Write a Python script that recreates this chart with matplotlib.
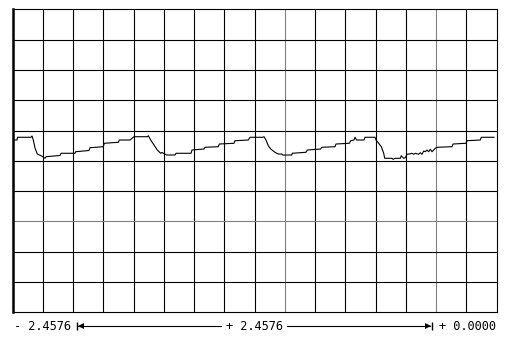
import matplotlib
matplotlib.use("Agg")
import matplotlib.pyplot as plt
from matplotlib.lines import Line2D

# sweep window (s) and screen layout in divisions
t_start = -2.4576
t_span = 2.4576
t_end = 0.0
n_xdiv = 16
n_ydiv = 10
gray_xdiv = [9, 14]
gray_ydiv = [-2]

# trace: time (s), level (div)
trace_t = [-2.4551, -2.4348, -2.4322, -2.3637, -2.3586, -2.3520, -2.3434, -2.3317,
           -2.3093, -2.2926, -2.2875, -2.2164, -2.2113, -2.1402, -2.1367, -2.0692,
           -2.0641, -1.9965, -1.9915, -1.9204, -1.9153, -1.8610, -1.8407, -1.7731,
           -1.7680, -1.7559, -1.7391, -1.7223, -1.7051, -1.6985, -1.6919, -1.6746,
           -1.6325, -1.6274, -1.5512, -1.5462, -1.4852, -1.4801, -1.4126, -1.4075,
           -1.3329, -1.3278, -1.2603, -1.2516, -1.1872, -1.1806, -1.1704, -1.1587,
           -1.1465, -1.1247, -1.1079, -1.0907, -1.0856, -1.0399, -1.0369, -0.9673,
           -0.9607, -0.8927, -0.8876, -0.8200, -0.8150, -0.7474, -0.7403, -0.7236,
           -0.7185, -0.7099, -0.6728, -0.6677, -0.6169, -0.6119, -0.5981, -0.5849,
           -0.5728, -0.5677, -0.5306, -0.5255, -0.5138, -0.4885, -0.4834, -0.4712,
           -0.4631, -0.4544, -0.4428, -0.4291, -0.4204, -0.4123, -0.3950, -0.3869,
           -0.3783, -0.3696, -0.3615, -0.3529, -0.3443, -0.3361, -0.3275, -0.3188,
           -0.3107, -0.3021, -0.2260, -0.2209, -0.1549, -0.1498, -0.0823, -0.0772,
           -0.0127]
trace_v = [0.686, 0.686, 0.776, 0.776, 0.818, 0.686, 0.422, 0.224,
           0.158, 0.083, 0.135, 0.175, 0.248, 0.248, 0.300, 0.340,
           0.432, 0.465, 0.578, 0.611, 0.686, 0.686, 0.795, 0.795,
           0.828, 0.686, 0.521, 0.356, 0.248, 0.274, 0.248, 0.191,
           0.191, 0.248, 0.248, 0.356, 0.389, 0.446, 0.465, 0.554,
           0.578, 0.663, 0.686, 0.776, 0.776, 0.795, 0.686, 0.498,
           0.389, 0.281, 0.224, 0.224, 0.191, 0.191, 0.248, 0.281,
           0.356, 0.389, 0.446, 0.465, 0.554, 0.578, 0.663, 0.686,
           0.776, 0.686, 0.686, 0.776, 0.776, 0.686, 0.578, 0.465,
           0.248, 0.083, 0.083, 0.050, 0.083, 0.083, 0.168, 0.083,
           0.102, 0.215, 0.224, 0.248, 0.215, 0.248, 0.215, 0.267,
           0.215, 0.323, 0.300, 0.356, 0.300, 0.380, 0.300, 0.356,
           0.413, 0.446, 0.465, 0.554, 0.578, 0.663, 0.686, 0.776,
           0.776]

W, H = 509, 349
fig = plt.figure(figsize=(W / 100, H / 100), dpi=100)
ax = fig.add_axes([12.5 / W, (H - 312.3) / H, 484 / W, 303 / H])

div_t = t_span / n_xdiv
for i in range(1, n_xdiv):
    c = '#808080' if i in gray_xdiv else 'black'
    ax.axvline(t_start + i * div_t, color=c, lw=0.8, zorder=1)
for j in range(-n_ydiv // 2 + 1, n_ydiv // 2):
    c = '#808080' if j in gray_ydiv else 'black'
    ax.axhline(j, color=c, lw=0.8, zorder=1)

ax.plot(trace_t, trace_v, color='black', lw=0.8, zorder=3)

ax.set_xlim(t_start, t_end)
ax.set_ylim(-n_ydiv / 2, n_ydiv / 2)
ax.set_xticks([])
ax.set_yticks([])
for s in ax.spines.values():
    s.set_color('black')
    s.set_linewidth(0.8)
ax.spines['left'].set_linewidth(1.8)

# sweep readout under the screen
ty = (H - 326) / H
font = dict(family='DejaVu Sans Mono', fontsize=8.6, va='center', color='black')
fig.text(13.5 / W, ty, '- %.4f' % abs(t_start), ha='left', **font)
fig.text(254.5 / W, ty, '+ %.4f' % t_span, ha='center', **font)
fig.text(496 / W, ty, '+ %.4f' % t_end, ha='right', **font)

fig.add_artist(Line2D([78 / W, 221 / W], [ty, ty], color='black', lw=0.8))
fig.add_artist(Line2D([287 / W, 430 / W], [ty, ty], color='black', lw=0.8))
fig.add_artist(Line2D([77 / W], [ty], marker='|', ms=6, mew=1, color='black'))
fig.add_artist(Line2D([80.5 / W], [ty], marker='<', ms=4, mew=0, color='black'))
fig.add_artist(Line2D([431.5 / W], [ty], marker='|', ms=6, mew=1, color='black'))
fig.add_artist(Line2D([428 / W], [ty], marker='>', ms=4, mew=0, color='black'))

fig.savefig('out.png', dpi=100, facecolor='white')
